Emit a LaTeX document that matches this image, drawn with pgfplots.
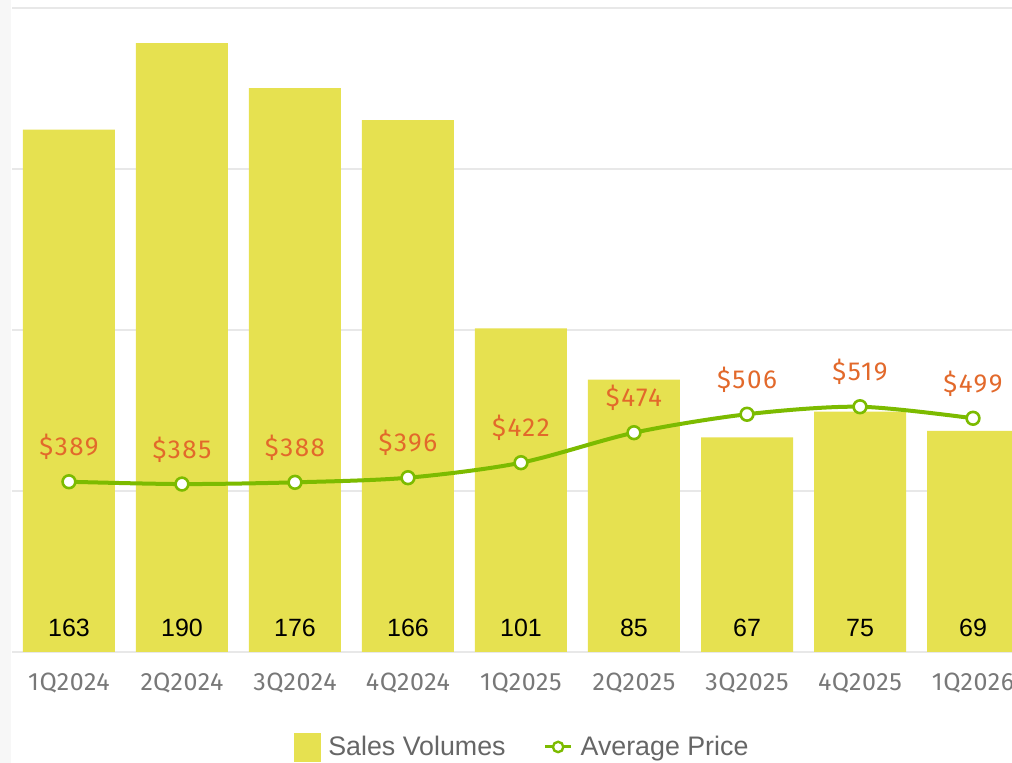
\documentclass[border=0pt]{standalone}
\usepackage{fontspec}
\setmainfont{Liberation Sans}
\newfontfamily\exofont[LetterSpace=6]{Fira Sans}
\newfontfamily\tickfont[LetterSpace=2.5]{Fira Sans}
\usepackage{pgfplots}
\usepackage{pgfplotstable}
\pgfplotsset{compat=1.18}
\definecolor{baryellow}{HTML}{E6E150}
\definecolor{linegreen}{HTML}{7CBB00}
\definecolor{priceorange}{HTML}{E2692B}
\definecolor{gridgray}{HTML}{E8E8E8}
\definecolor{ticktext}{HTML}{787878}
\definecolor{legtext}{HTML}{666666}

\pgfplotstableread{
x y
0 163
1 190
2 176
3 166
4 101
5 85
6 67
7 75
8 69
}\volumes

\pgfplotstableread{
x y
0 389
1 385
2 388
3 396
4 422
5 474
6 506
7 519
8 499
}\prices

\begin{document}
\begin{tikzpicture}
\useasboundingbox (-6pt,-55.5pt) rectangle (500pt,326pt);
\fill[black!3] (-6pt,-55.5pt) rectangle (-0.5pt,326pt);
\begin{axis}[
  scale only axis, width=500pt, height=322pt,
  xmin=-0.504, xmax=8.345, ymin=0, ymax=201,
  axis line style={draw=none},
  tick style={draw=none},
  ytick={0,50.25,100.5,150.75,201}, yticklabels={},
  ymajorgrids, grid style={gridgray, line width=1pt},
  xtick={0,...,8},
  xticklabels={1Q2024,2Q2024,3Q2024,4Q2024,1Q2025,2Q2025,3Q2025,4Q2025,1Q2026},
  xticklabel style={font=\tickfont\fontsize{12.5}{13}\selectfont, text=ticktext, anchor=center, yshift=-15.5pt},
]
\addplot[ybar, bar width=46pt, fill=baryellow, draw=none] table[x=x,y=y]{\volumes};
\addplot[draw=none, mark=none, nodes near coords, point meta=explicit symbolic,
  nodes near coords style={anchor=center, font=\fontsize{12.5}{13}\selectfont, text=black}]
  table[x=x, y expr=7.5, meta=y]{\volumes};
\end{axis}
\begin{axis}[
  scale only axis, width=500pt, height=322pt,
  xmin=-0.504, xmax=8.345, ymin=94, ymax=1210,
  hide axis, clip=false,
  legend style={at={(0.511,-0.1475)}, anchor=center, draw=none, fill=none,
    legend columns=2, font=\fontsize{13.4}{15}\selectfont, text=legtext,
    /tikz/every odd column/.append style={column sep=2pt},
    /tikz/every even column/.append style={column sep=17pt},
    cells={anchor=west}},
]
\addlegendimage{legend image code/.code={\fill[baryellow] (0pt,-7pt) rectangle (13pt,7pt);}}
\addlegendentry{Sales Volumes}
\addplot[linegreen, line width=2pt, smooth, tension=0.5, mark=*,
  mark options={fill=white, draw=linegreen, line width=1.3pt}, mark size=3.2pt,
  nodes near coords={\$\pgfplotspointmeta}, point meta=explicit symbolic,
  nodes near coords style={anchor=base, yshift=13pt, font=\exofont\fontsize{13}{14}\selectfont, text=priceorange},
  legend image code/.code={\draw[linegreen, line width=1.5pt] (0pt,0pt) -- (13pt,0pt);
    \draw[linegreen, line width=1.2pt, fill=white] (6.5pt,0pt) circle (2.6pt);}]
  table[x=x, y=y, meta=y]{\prices};
\addlegendentry{Average Price}
\end{axis}
\end{tikzpicture}
\end{document}
